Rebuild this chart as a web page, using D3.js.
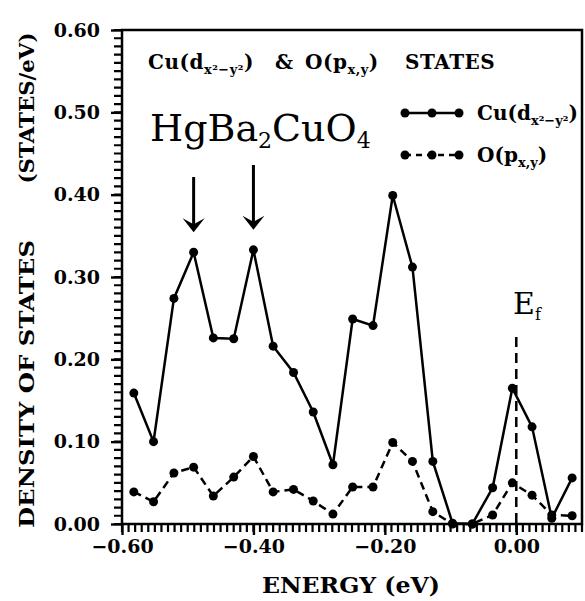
<!DOCTYPE html>
<html>
<head>
<meta charset="utf-8">
<script src="https://cdn.jsdelivr.net/npm/d3@7"></script>
<style>
  body { margin: 0; background: #fff; }
  text { font-family: "DejaVu Serif", serif; fill: #000; }
  .bold { font-weight: bold; }
</style>
</head>
<body>
<svg width="585" height="601"></svg>
<script>
// energies (eV) and densities of states
let energy = [-0.582, -0.552, -0.521, -0.491, -0.461, -0.430, -0.400, -0.370, -0.339, -0.309, -0.279, -0.249,
              -0.218, -0.188, -0.158, -0.127, -0.097, -0.067, -0.036, -0.006, 0.024, 0.054, 0.085];
let cuDOS = [0.159, 0.100, 0.274, 0.330, 0.226, 0.225, 0.333, 0.216, 0.184, 0.136, 0.072, 0.249,
             0.241, 0.399, 0.312, 0.076, 0.001, 0.000, 0.044, 0.165, 0.118, 0.007, 0.056];
let oDOS = [0.039, 0.027, 0.062, 0.069, 0.034, 0.057, 0.082, 0.039, 0.042, 0.028, 0.012, 0.045,
            0.045, 0.099, 0.076, 0.015, 0.000, 0.000, 0.011, 0.050, 0.035, 0.011, 0.010];
let xTicks = [-0.6, -0.4, -0.2, 0.0];
let yTicks = [0.0, 0.1, 0.2, 0.3, 0.4, 0.5, 0.6];
let arrowAt = [3, 6]; // indices of the two marked peaks

let svg = d3.select("svg");

let x = d3.scaleLinear().domain([-0.6, 0.1]).range([122, 582]);
let y = d3.scaleLinear().domain([0, 0.6]).range([524, 30]);
let fmt = d3.format(".2f");

// minor ticks every 0.01, comb style, one path per axis
let yMinorVals = d3.range(0, 61).map(i => i / 100);
let xMinorVals = d3.range(-60, 11).map(i => i / 100);
svg.append("path")
    .attr("d", yMinorVals.map(v => `M114 ${y(v)} H122`).join(" "))
    .attr("fill", "none").attr("stroke", "#000").attr("stroke-width", 2.2);
svg.append("path")
    .attr("d", xMinorVals.map(v => `M${x(v)} 524 V532`).join(" "))
    .attr("fill", "none").attr("stroke", "#000").attr("stroke-width", 2.2);

// major ticks + labels
let yAxis = svg.append("g")
    .attr("transform", "translate(122,0)")
    .call(d3.axisLeft(y).tickValues(yTicks).tickSize(11).tickPadding(11).tickFormat(fmt));
let xAxis = svg.append("g")
    .attr("transform", "translate(0,524)")
    .call(d3.axisBottom(x).tickValues(xTicks).tickSize(11).tickPadding(5).tickFormat(fmt));
[yAxis, xAxis].forEach(function (g) {
    g.select(".domain").remove();
    g.selectAll(".tick line").attr("stroke", "#000").attr("stroke-width", 2.4);
    g.selectAll(".tick text")
        .style("font-family", "'DejaVu Serif', serif")
        .style("font-size", "19px")
        .style("font-weight", "bold");
});

// frame
svg.append("rect")
    .attr("x", 122).attr("y", 30)
    .attr("width", 582 - 122).attr("height", 524 - 30)
    .attr("fill", "none").attr("stroke", "#000").attr("stroke-width", 2.5);

// Fermi level
svg.append("line")
    .attr("x1", x(0)).attr("x2", x(0))
    .attr("y1", 337).attr("y2", y(0))
    .attr("stroke", "#000").attr("stroke-width", 2.5)
    .attr("stroke-dasharray", "10,6");
let ef = svg.append("text").attr("x", 513).attr("y", 314).style("font-size", "30px").text("E");
ef.append("tspan").attr("dy", 6).style("font-size", "16px").text("f");

// series
let lineGen = d3.line()
    .x(function (d, i) { return x(energy[i]); })
    .y(function (d) { return y(d); });

svg.append("path")
    .datum(oDOS)
    .attr("d", lineGen)
    .attr("fill", "none").attr("stroke", "#000").attr("stroke-width", 2.5)
    .attr("stroke-dasharray", "8,5");
svg.append("path")
    .datum(cuDOS)
    .attr("d", lineGen)
    .attr("fill", "none").attr("stroke", "#000").attr("stroke-width", 2.5);

[cuDOS, oDOS].forEach(function (s) {
    svg.append("g").selectAll("circle")
        .data(s)
        .join("circle")
        .attr("cx", function (d, i) { return x(energy[i]); })
        .attr("cy", function (d) { return y(d); })
        .attr("r", 4.5);
});

// arrows over the two peaks
arrowAt.forEach(function (k, j) {
    let ax = x(energy[k]), tip = y(cuDOS[k]) - 20;
    let top = j == 0 ? 177 : 165;
    svg.append("line")
        .attr("x1", ax).attr("x2", ax).attr("y1", top).attr("y2", tip - 6)
        .attr("stroke", "#000").attr("stroke-width", 3);
    svg.append("path")
        .attr("d", `M${ax - 11} ${tip - 14} L${ax} ${tip} L${ax + 11} ${tip - 14} L${ax} ${tip - 8} Z`)
        .attr("fill", "#000");
});

// compound name
let hg = svg.append("text").attr("x", 150).attr("y", 141).style("font-size", "38px");
hg.append("tspan").text("HgBa");
hg.append("tspan").attr("dy", 7).style("font-size", "22px").text("2");
hg.append("tspan").attr("dy", -7).text("CuO");
hg.append("tspan").attr("dy", 7).style("font-size", "22px").text("4");

// header line
let hd = svg.append("text").attr("class", "bold").attr("x", 148).attr("y", 69)
    .style("font-size", "20px").style("letter-spacing", "0.5px");
hd.append("tspan").text("Cu(d");
hd.append("tspan").attr("dy", 5).style("font-size", "13px").text("x²−y²");
hd.append("tspan").attr("dy", -5).text(")");
hd.append("tspan").attr("x", 275).text("&");
hd.append("tspan").attr("x", 305).text("O(p");
hd.append("tspan").attr("dy", 5).style("font-size", "13px").text("x,y");
hd.append("tspan").attr("dy", -5).text(")");
hd.append("tspan").attr("x", 405).text("STATES");

// legend
let legend = [
    {name: "Cu(d", sub: "x²−y²", dash: null, ly: 113},
    {name: "O(p", sub: "x,y", dash: "6,5", ly: 155}
];
legend.forEach(function (l) {
    let g = svg.append("g");
    g.append("line")
        .attr("x1", 405).attr("x2", 459).attr("y1", l.ly).attr("y2", l.ly)
        .attr("stroke", "#000").attr("stroke-width", 2.5)
        .attr("stroke-dasharray", l.dash);
    g.selectAll("circle").data([405, 432, 459]).join("circle")
        .attr("cx", function (d) { return d; }).attr("cy", l.ly).attr("r", 4.5);
    let t = g.append("text").attr("class", "bold").attr("x", 477).attr("y", l.ly + 7).style("font-size", "20px");
    t.append("tspan").text(l.name);
    t.append("tspan").attr("dy", 5).style("font-size", "13px").text(l.sub);
    t.append("tspan").attr("dy", -5).text(")");
});

// axis titles
svg.append("text").attr("class", "bold")
    .attr("x", 351).attr("y", 593)
    .attr("text-anchor", "middle")
    .attr("textLength", 178).attr("lengthAdjust", "spacingAndGlyphs")
    .style("font-size", "22px")
    .text("ENERGY (eV)");
svg.append("text").attr("class", "bold")
    .attr("transform", "translate(34,384) rotate(-90)")
    .attr("text-anchor", "middle")
    .attr("textLength", 288).attr("lengthAdjust", "spacingAndGlyphs")
    .style("font-size", "21px")
    .text("DENSITY OF STATES");
svg.append("text").attr("class", "bold")
    .attr("transform", "translate(34,108) rotate(-90)")
    .attr("text-anchor", "middle")
    .attr("textLength", 151).attr("lengthAdjust", "spacingAndGlyphs")
    .style("font-size", "21px")
    .text("(STATES/eV)");
</script>
</body>
</html>
